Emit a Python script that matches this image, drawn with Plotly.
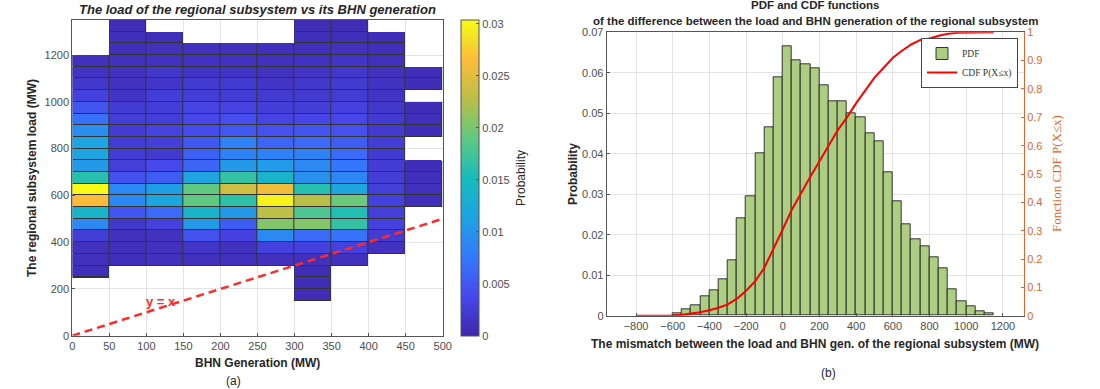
import plotly.graph_objects as go

# ---------------- Left chart data: 2-D histogram (probability) ----------------
gen_centers = [25, 75, 125, 175, 225, 275, 325, 375, 425, 475]          # BHN generation bins (MW)
load_centers = [1325, 1275, 1225, 1175, 1125, 1075, 1025, 975, 925, 875, 825, 775,
                725, 675, 625, 575, 525, 475, 425, 375, 325, 275, 225, 175]  # load bins (MW), top-down

N = None
p_gen_0_50 = [N, N, N, 0.0012, 0.0015, 0.002, 0.003, 0.0048, 0.007, 0.0095, 0.0115, 0.0115,
              0.0105, 0.016, 0.0304, 0.0265, 0.014, 0.009, 0.0027, 0.0012, 0.0012, 0.001, N, N]
p_gen_50_100 = [0.0008, 0.001, 0.001, 0.0012, 0.0012, 0.0013, 0.0017, 0.0025, 0.0027, 0.0025, 0.0025, 0.0025,
                0.0028, 0.0045, 0.009, 0.009, 0.0048, 0.002, 0.0012, 0.0011, 0.001, N, N, N]
p_gen_100_150 = [N, 0.001, 0.0012, 0.0013, 0.002, 0.0018, 0.0027, 0.0027, 0.0027, 0.0032, 0.0028, 0.0022,
                 0.0038, 0.0055, 0.011, 0.0118, 0.0065, 0.003, 0.0013, 0.0012, 0.0012, N, N, N]
p_gen_150_200 = [N, N, 0.0012, 0.0013, 0.0017, 0.0022, 0.0027, 0.0033, 0.0037, 0.004, 0.005, 0.0058,
                 0.006, 0.0115, 0.019, 0.019, 0.014, 0.0105, 0.0045, 0.0018, 0.0012, N, N, N]
p_gen_200_250 = [N, N, 0.0012, 0.0013, 0.0017, 0.0022, 0.0025, 0.0032, 0.0042, 0.005, 0.0085, 0.0085,
                 0.0105, 0.0168, 0.024, 0.0165, 0.0105, 0.0055, 0.003, 0.0013, 0.0011, N, N, N]
p_gen_250_300 = [N, N, 0.0011, 0.0012, 0.0013, 0.0016, 0.0022, 0.0027, 0.0033, 0.0045, 0.006, 0.0085,
                 0.0108, 0.0138, 0.026, 0.0298, 0.023, 0.0205, 0.009, 0.003, 0.0012, N, N, N]
p_gen_300_350 = [0.0008, 0.001, 0.0011, 0.0014, 0.0016, 0.002, 0.0022, 0.0027, 0.0035, 0.0048, 0.0065, 0.0085,
                 0.009, 0.0098, 0.016, 0.0228, 0.018, 0.0205, 0.0065, 0.003, 0.0012, 0.0008, 0.0008, 0.0007]
p_gen_350_400 = [0.0008, 0.001, 0.0012, 0.0016, 0.002, 0.0022, 0.0024, 0.003, 0.0036, 0.0045, 0.0055, 0.0065,
                 0.0075, 0.0088, 0.012, 0.0195, 0.0158, 0.0168, 0.0072, 0.003, 0.0012, N, N, N]
p_gen_400_450 = [N, 0.0009, 0.001, 0.0011, 0.0012, 0.0014, 0.0016, 0.002, 0.0023, 0.0022, 0.0025, 0.0023,
                 0.0025, 0.0026, 0.0028, 0.003, 0.0028, 0.003, 0.0024, 0.0013, N, N, N, N]
p_gen_450_500 = [N, N, N, N, 0.0009, 0.0009, N, 0.0009, 0.001, 0.0009, N, N,
                 0.0009, 0.001, 0.0011, 0.001, N, N, N, N, N, N, N, N]

ref_line_x = [0, 500]   # y = x reference
ref_line_y = [0, 500]

# ---------------- Right chart data: PDF histogram and CDF ----------------
mismatch_centers = [-575, -525, -475, -425, -375, -325, -275, -225, -175, -125, -75, -25,
                    25, 75, 125, 175, 225, 275, 325, 375, 425, 475, 525, 575,
                    625, 675, 725, 775, 825, 875, 925, 975, 1025, 1075, 1125]
pdf_values = [0.0007, 0.0016, 0.0026, 0.0048, 0.0063, 0.0089, 0.0136, 0.0241, 0.0295, 0.0400, 0.0465, 0.0590,
              0.0665, 0.0630, 0.0620, 0.0610, 0.0570, 0.0530, 0.0530, 0.0500, 0.0490, 0.0450, 0.0430, 0.0355,
              0.0283, 0.0227, 0.0189, 0.0171, 0.0145, 0.0116, 0.0066, 0.0036, 0.0022, 0.0010, 0.0006]
cdf_x = [-800, -750, -700, -650, -600, -550, -500, -450, -400, -350, -300, -250, -200, -150, -100, -50,
         0, 50, 100, 150, 200, 250, 300, 350, 400, 450, 500, 550, 600, 650, 700, 750, 800, 850, 900, 950,
         1000, 1050, 1100, 1150]
cdf_values = [0, 0, 0, 0, 0.001, 0.003, 0.007, 0.012, 0.019, 0.028, 0.040, 0.060, 0.088, 0.122, 0.170, 0.235,
              0.305, 0.375, 0.435, 0.490, 0.545, 0.600, 0.655, 0.700, 0.750, 0.795, 0.840, 0.875, 0.910, 0.935,
              0.957, 0.973, 0.978, 0.988, 0.995, 0.998, 0.999, 1.0, 1.0, 1.0]

# ---------------- Build figure ----------------
W, H = 1100, 389
gen_columns = [p_gen_0_50, p_gen_50_100, p_gen_100_150, p_gen_150_200, p_gen_200_250,
               p_gen_250_300, p_gen_300_350, p_gen_350_400, p_gen_400_450, p_gen_450_500]
z = [[col[r] for col in gen_columns] for r in range(len(load_centers))]
mask = [[None if v is None else 1 for v in row] for row in z]

parula = [
    [0.0, 'rgb(62,38,168)'],
    [0.125, 'rgb(71,72,236)'],
    [0.25, 'rgb(52,120,252)'],
    [0.375, 'rgb(30,163,226)'],
    [0.5, 'rgb(22,188,188)'],
    [0.625, 'rgb(96,201,129)'],
    [0.75, 'rgb(186,191,72)'],
    [0.875, 'rgb(253,188,58)'],
    [0.9375, 'rgb(245,222,40)'],
    [1.0, 'rgb(249,251,21)'],
]

TXT = '#262626'
TICK = '#4d4d4d'
GRID = '#e3e3e3'
ORANGE = '#DF6530'
SANS = 'Liberation Sans, Arial, sans-serif'
SERIF = 'Liberation Serif, Times New Roman, serif'

def px_x(p):
    return p / W

def px_y(p):
    return 1 - p / H

fig = go.Figure()

fig.add_trace(go.Heatmap(
    x=gen_centers, y=load_centers, z=mask,
    colorscale=[[0, '#333333'], [1, '#333333']], showscale=False,
    hoverinfo='skip', xaxis='x', yaxis='y'))

fig.add_trace(go.Heatmap(
    x=gen_centers, y=load_centers, z=z, zmin=0, zmax=0.0304,
    colorscale=parula, xgap=1, ygap=1, xaxis='x', yaxis='y',
    colorbar=dict(
        x=px_x(461), xanchor='left', y=px_y(335.7), yanchor='bottom',
        len=(335.7 - 20) / H, lenmode='fraction', thickness=18, thicknessmode='pixels',
        outlinecolor='#555555', outlinewidth=1, xpad=0, ypad=0,
        tickmode='array', tickvals=[0, 0.005, 0.01, 0.015, 0.02, 0.025, 0.03],
        ticktext=['0', '0.005', '0.01', '0.015', '0.02', '0.025', '0.03'],
        ticks='inside', ticklen=3, tickcolor='#555555',
        tickfont=dict(family=SANS, size=11, color=TICK),
    )))

fig.add_trace(go.Scatter(
    x=ref_line_x, y=ref_line_y, mode='lines', showlegend=False,
    line=dict(color='#ff2a2a', width=2.5, dash='8px,5px'), xaxis='x', yaxis='y'))

fig.add_trace(go.Bar(
    x=mismatch_centers, y=pdf_values, width=50, name='PDF',
    marker=dict(color='rgb(173,205,131)', line=dict(color='rgba(25,25,25,0.85)', width=1)),
    xaxis='x2', yaxis='y2'))

fig.add_trace(go.Scatter(
    x=cdf_x, y=cdf_values, mode='lines', name='CDF P(X\u2264x)',
    line=dict(color='#ff0000', width=2), xaxis='x2', yaxis='y3'))

axis_common = dict(showgrid=True, gridcolor=GRID, gridwidth=1, showline=True, linecolor='#555555',
                   linewidth=1, mirror=True, ticks='inside', ticklen=3, tickcolor='#555555',
                   zeroline=False, automargin=False, tickfont=dict(family=SANS, size=11, color=TICK))

fig.update_layout(
    width=W, height=H, margin=dict(l=0, r=0, t=0, b=0, pad=0, autoexpand=False),
    paper_bgcolor='white', plot_bgcolor='white', bargap=0,
    xaxis=dict(domain=[px_x(72.3), px_x(442.7)], range=[0, 500],
               tickvals=[0, 50, 100, 150, 200, 250, 300, 350, 400, 450, 500], anchor='y', **axis_common),
    yaxis=dict(domain=[px_y(335.7), px_y(20)], range=[0, 1350],
               tickvals=[0, 200, 400, 600, 800, 1000, 1200], anchor='x', **axis_common),
    xaxis2=dict(domain=[px_x(606.7), px_x(1024)], range=[-960, 1315],
                tickvals=[-800, -600, -400, -200, 0, 200, 400, 600, 800, 1000, 1200], anchor='y2', **axis_common),
    yaxis2=dict(domain=[px_y(315.7), px_y(32.3)], range=[0, 0.07],
                tickvals=[0, 0.01, 0.02, 0.03, 0.04, 0.05, 0.06, 0.07],
                ticktext=['0', '0.01', '0.02', '0.03', '0.04', '0.05', '0.06', '0.07'], anchor='x2',
                **axis_common),
    yaxis3=dict(overlaying='y2', side='right', anchor='x2', range=[0, 1],
                tickvals=[0, 0.1, 0.2, 0.3, 0.4, 0.5, 0.6, 0.7, 0.8, 0.9, 1],
                ticktext=['0', '0.1', '0.2', '0.3', '0.4', '0.5', '0.6', '0.7', '0.8', '0.9', '1'],
                showgrid=False, zeroline=False, showline=True, linecolor=ORANGE, linewidth=1,
                ticks='inside', ticklen=3, tickcolor=ORANGE, automargin=False,
                tickfont=dict(family=SANS, size=11, color=ORANGE)),
    legend=dict(x=px_x(921), y=px_y(38), xanchor='left', yanchor='top',
                bgcolor='white', bordercolor='#444444', borderwidth=1,
                font=dict(family=SERIF, size=9.5, color='#333333'),
                itemwidth=30, tracegroupgap=0),
)

annotations = [
    dict(text='<b><i>The load of the regional subsystem vs its BHN generation</i></b>',
         x=px_x(257.5), y=px_y(9), font=dict(family=SANS, size=13, color=TXT)),
    dict(text='<b>BHN Generation (MW)</b>', x=px_x(257.5), y=px_y(363),
         font=dict(family=SANS, size=12, color=TXT)),
    dict(text='(a)', x=px_x(233), y=px_y(381), font=dict(family=SANS, size=12, color=TXT)),
    dict(text='<b>The regional subsystem load (MW)</b>', x=px_x(32), y=px_y(178), textangle=-90,
         font=dict(family=SANS, size=12, color=TXT)),
    dict(text='Probability', x=px_x(521), y=px_y(178), textangle=-90,
         font=dict(family=SANS, size=12, color=TXT)),
    dict(text='<b>PDF and CDF functions</b>', x=px_x(815), y=px_y(5.5),
         font=dict(family=SANS, size=11.5, color=TXT)),
    dict(text='<b>of the difference between the load and BHN generation of the regional subsystem</b>',
         x=px_x(815), y=px_y(21), font=dict(family=SANS, size=11.5, color=TXT)),
    dict(text='<b>The mismatch between the load and BHN gen. of the regional subsystem (MW)</b>',
         x=px_x(815), y=px_y(344), font=dict(family=SANS, size=12, color=TXT)),
    dict(text='(b)', x=px_x(828), y=px_y(373), font=dict(family=SANS, size=12, color=TXT)),
    dict(text='<b>Probability</b>', x=px_x(573), y=px_y(174), textangle=-90,
         font=dict(family=SANS, size=12, color=TXT)),
    dict(text='Fonction CDF P(X\u2264x)', x=px_x(1056), y=px_y(174), textangle=-90,
         font=dict(family=SERIF, size=13, color=ORANGE)),
    dict(text='<b>y = x</b>', x=120, y=148, xref='x', yref='y',
         font=dict(family=SANS, size=13, color='#ff2a2a')),
]
for a in annotations:
    a.setdefault('xref', 'paper')
    a.setdefault('yref', 'paper')
    a.update(showarrow=False, xanchor='center', yanchor='middle')
fig.update_layout(annotations=annotations)

fig.write_html('out.html', config={'displayModeBar': False},
               post_script="document.body.style.margin='0';document.body.style.overflow='hidden';")
